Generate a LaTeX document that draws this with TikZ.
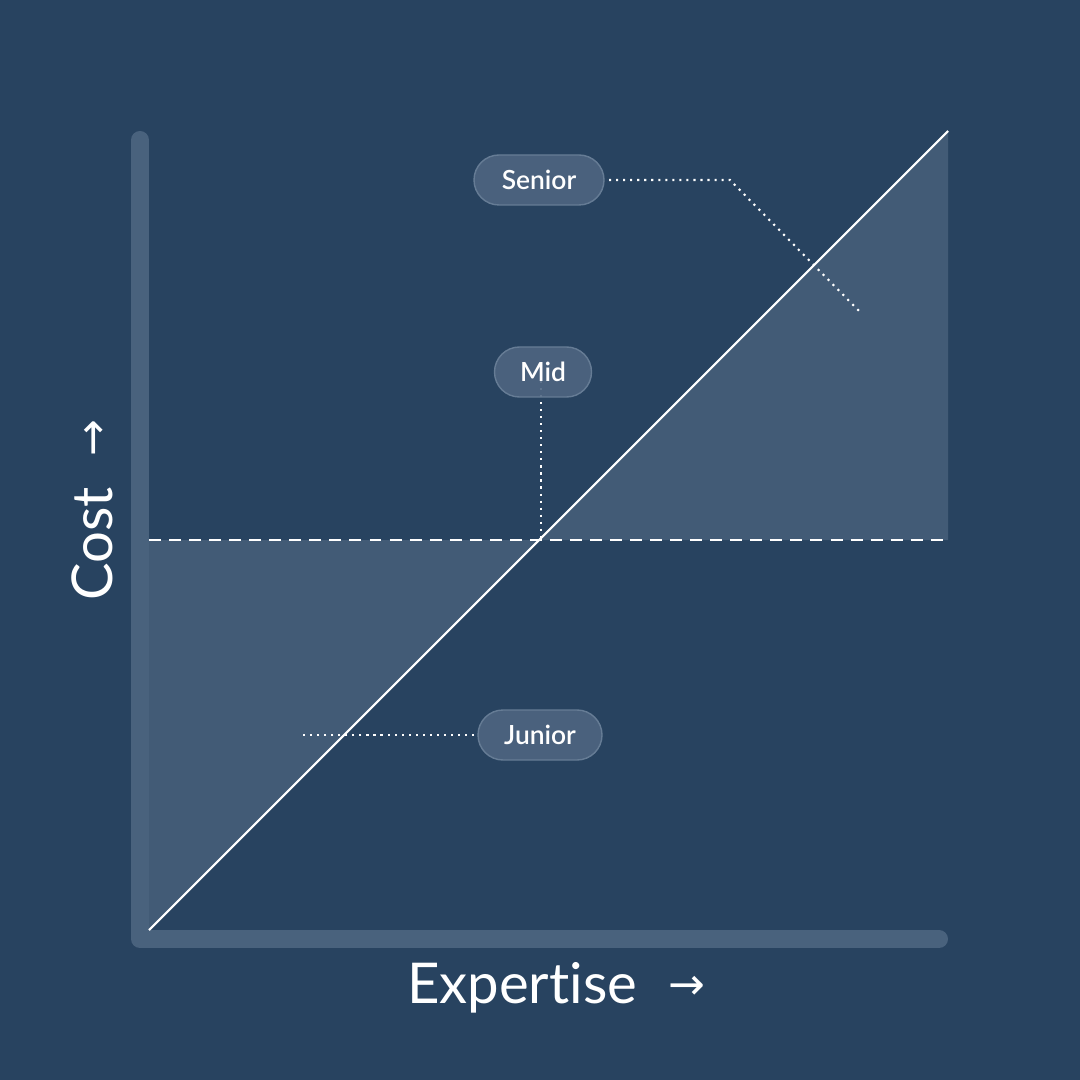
\documentclass[tikz,border=0pt]{standalone}
\usepackage{fontspec}
\setmainfont{Lato}[Ligatures=NoCommon]
\newfontfamily\pillfont{Lato}[UprightFont={* Semibold}, Ligatures=NoCommon]
\newfontfamily\arrowfont{DejaVu Sans}
\usetikzlibrary{positioning}

\definecolor{bgblue}{RGB}{40,67,96}
\definecolor{areafill}{RGB}{66,91,118}
\definecolor{axisbar}{RGB}{73,98,125}
\definecolor{pillfill}{RGB}{78,101,129}
\definecolor{pilledge}{RGB}{102,124,149}

\newcommand{\axisarrow}{\hspace{0.55em}\raisebox{1.2pt}{\arrowfont\fontsize{12.5}{14}\selectfont →}}

\tikzset{
	pill/.style={draw=pilledge, fill=pillfill, fill opacity=0.9, text opacity=1,
		rounded corners=25*0.01cm, minimum height=50*0.01cm, inner xsep=0pt,
		text=white, font=\pillfont\fontsize{7.5}{9}\selectfont, line width=0.4pt},
	leader/.style={white, line width=0.6pt, dash pattern=on 0.6pt off 1.4pt},
	axislabel/.style={text=white, font=\fontsize{16}{19}\selectfont}
}

\begin{document}
\begin{tikzpicture}[x=0.01cm, y=-0.01cm]
	% Background and frame
	\fill[bgblue] (0,0) rectangle (1080,1080);
	\useasboundingbox (0,0) rectangle (1080,1080);
	
	% Corner points of the chart
	\coordinate (origin) at (149,930);
	\coordinate (topright) at (948,131);
	\coordinate (breakeven) at (539,540);
	
	% Shaded triangles
	\fill[areafill] (149,540) -- (breakeven) -- (origin) -- cycle;
	\fill[areafill] (breakeven) -- (948,540) -- (topright) -- cycle;
	
	% Draw the axes
	\draw[axisbar, line width=18*0.01cm, line cap=round, line join=round]
		(140,140) -- (140,939) -- (939,939);
	
	% Dashed level line and diagonal
	\draw[white, line width=0.6pt, dash pattern=on 3.4pt off 2.3pt] (149,540) -- (948,540);
	\draw[white, line width=0.6pt] (origin) -- (topright);
	
	% Leader lines
	\coordinate (seniorBend) at (730,180);
	\coordinate (seniorTip) at (862,314);
	\coordinate (midTop) at (541,381);
	\coordinate (midFoot) at (541,540);
	\coordinate (juniorTip) at (302,735);
	
	\draw[leader] (609,180) -- (seniorBend) -- (seniorTip);
	\draw[leader] (midTop) -- (midFoot);
	\draw[leader] (474,735) -- (juniorTip);
	
	% Place the labels
	\node[pill, minimum width=130*0.01cm] (senior) at (539,180) {Senior};
	\node[pill, minimum width=97*0.01cm] (mid) at (543,372) {Mid};
	\node[pill, minimum width=124*0.01cm] (junior) at (540,735) {Junior};
	
	% Axis titles
	\node[axislabel] (xtitle) at (556,988) {Expertise\axisarrow};
	\node[axislabel, rotate=90] (ytitle) at (92,510) {Cost\axisarrow};
\end{tikzpicture}
\end{document}
